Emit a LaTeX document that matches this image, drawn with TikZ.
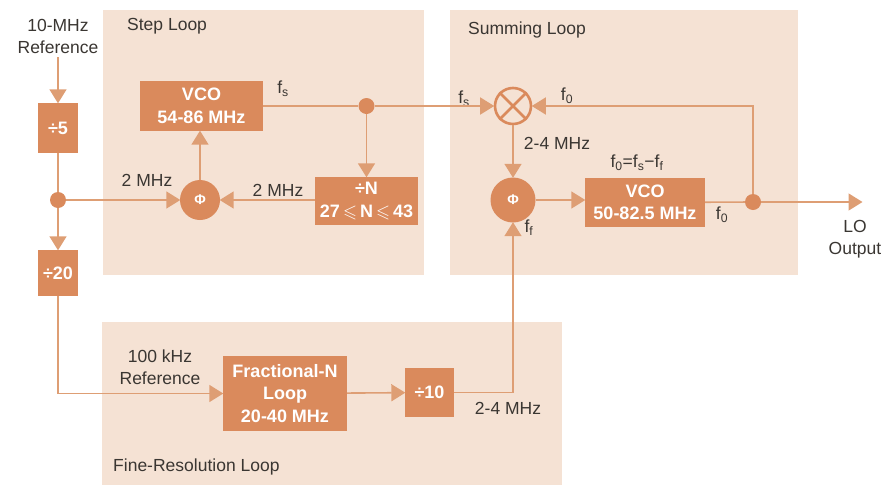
\documentclass[tikz,border=0pt]{standalone}
\usepackage{amssymb}
\usepackage{fontspec}
\setmainfont{Liberation Sans}
\usetikzlibrary{arrows.meta}
\definecolor{panel}{RGB}{245,226,212}
\definecolor{boxc}{RGB}{218,138,92}
\definecolor{linec}{RGB}{222,158,116}
\definecolor{txt}{RGB}{58,54,50}
\tikzset{
  lab/.style={text=txt, font=\fontsize{17.5}{22}\selectfont, align=center, inner sep=0pt},
  blk/.style={fill=boxc, text=white, font=\bfseries\fontsize{18}{22.5}\selectfont, align=center, inner sep=0pt},
  pd/.style={circle, fill=boxc, text=white, font=\bfseries\fontsize{14}{14}\selectfont, inner sep=0pt},
  dotc/.style={circle, fill=boxc, minimum size=16, inner sep=0pt},
  conn/.style={draw=linec, line width=1.6pt},
  arr/.style={conn, -{Triangle[length=14pt,width=17pt]}, shorten >=-0.5pt},
  bgpanel/.style={fill=panel, draw=none}
}
\begin{document}
\begin{tikzpicture}[x=1pt,y=-1pt]
\useasboundingbox (0,0) rectangle (881,485);
% panels
\fill[panel] (103,10) rectangle (424,275);
\fill[panel] (450,10) rectangle (798,275);
\fill[panel] (102,322) rectangle (562,485);
\node[lab, anchor=west] (tstep) at (127,26) {Step Loop};
\node[lab, anchor=west] (tsum) at (468,30) {Summing Loop};
\node[lab, anchor=west] (tfine) at (113,467) {Fine-Resolution Loop};
% blocks
\node[blk, minimum width=40, minimum height=50] (d5) at (58,128) {÷5};
\node[blk, minimum width=40, minimum height=46] (d20) at (58,273) {÷20};
\node[blk, minimum width=123, minimum height=50] (vco1) at (201.5,106) {VCO\\54-86 MHz};
\node[blk, minimum width=103, minimum height=48] (divn) at (366.5,201) {÷N\\27\,$\leqslant$\,N\,$\leqslant$\,43};
\node[pd, minimum size=40] (phi1) at (200,200) {Φ};
\node[circle, draw=boxc, line width=2.6pt, fill=panel, minimum size=36, inner sep=0pt] (mix) at (513,106) {};
\draw[boxc, line width=2.6pt] (mix.45) -- (mix.225) (mix.135) -- (mix.315);
\node[pd, minimum size=45] (phi2) at (513,200) {Φ};
\node[blk, minimum width=120, minimum height=49] (vco2) at (645,202.5) {VCO\\50-82.5 MHz};
\node[blk, minimum width=124, minimum height=75] (fracn) at (285,393.5) {Fractional-N\\Loop\\20-40 MHz};
\node[blk, minimum width=49, minimum height=49] (d10) at (429.5,392.5) {÷10};
\node[dotc] (dot1) at (58,200) {};
\node[dotc] (dot2) at (366.5,106) {};
\node[dotc] (dot3) at (753,202) {};
% texts
\node[lab] (tref) at (58,36) {10-MHz\\Reference};
\node[lab] (t100k) at (160,367) {100 kHz\\Reference};
\node[lab] (tlo) at (855,239) {LO\\Output};
\coordinate (lo) at (862,202);
\node[lab] (t2a) at (147,180) {2 MHz};
\node[lab] (t2b) at (278,190) {2 MHz};
\node[lab] (tfs1) at (283,89) {f\textsubscript{s}};
\node[lab] (tfs2) at (464,99) {f\textsubscript{s}};
\node[lab] (tf01) at (567,96) {f\textsubscript{0}};
\node[lab] (t24a) at (557,143) {2-4 MHz};
\node[lab] (teq) at (637,163) {f\textsubscript{0}=f\textsubscript{s}−f\textsubscript{f}};
\node[lab] (tf02) at (722,215) {f\textsubscript{0}};
\node[lab] (tff) at (529,228) {f\textsubscript{f}};
\node[lab] (t24b) at (508,408) {2-4 MHz};
% connectors
\draw[arr] (tref.south) ++(0,4) -- (d5);
\draw[conn] (d5) -- (dot1);
\draw[arr] (dot1) -- (d20);
\draw[arr] (dot1) -- (phi1);
\draw[arr] (phi1) -- (phi1 |- vco1.south);
\draw[conn] (vco1.east |- dot2) -- (dot2);
\draw[arr] (dot2) -- (mix);
\draw[arr] (dot2) -- (divn);
\draw[arr] (divn.west |- phi1) -- (phi1);
\draw[arr] (mix) -- (phi2);
\draw[arr] (phi2) -- (phi2 -| vco2.west);
\draw[conn] (vco2) -- (dot3);
\draw[arr] (dot3) -- (lo);
\draw[arr] (dot3) |- (mix);
\draw[arr] (d20) |- (fracn);
\draw[arr] (fracn) -- (d10);
\draw[arr] (d10) -| (phi2);
\end{tikzpicture}
\end{document}
